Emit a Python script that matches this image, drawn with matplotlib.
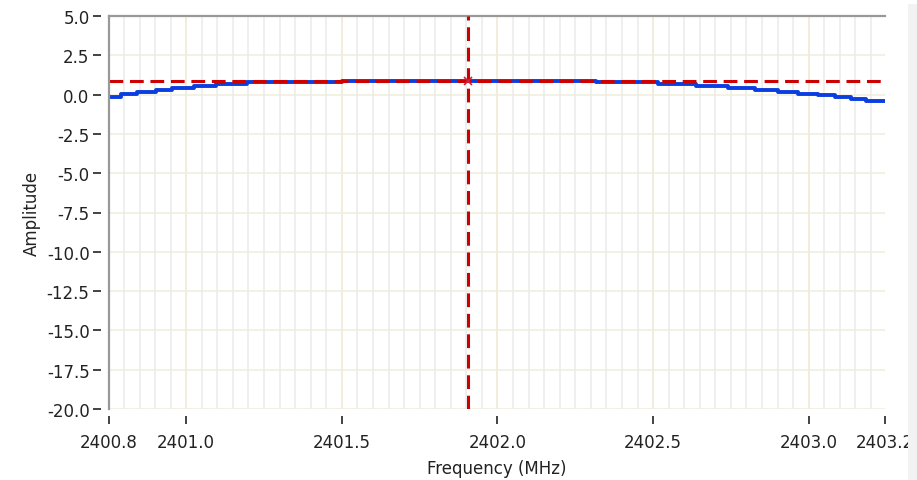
import numpy as np
import matplotlib.pyplot as plt
from matplotlib.patches import Rectangle

# measured spectrum: start frequency of each level (MHz) and its amplitude
step_freq = [2400.752, 2400.792, 2400.843, 2400.904, 2400.955, 2401.026, 2401.096,
             2401.196, 2401.314, 2401.500, 2402.317, 2402.516, 2402.638, 2402.740,
             2402.827, 2402.901, 2402.965, 2403.029, 2403.083, 2403.135, 2403.183,
             2403.245]
step_amp = [-0.17, 0.02, 0.17, 0.30, 0.43, 0.55, 0.70,
            0.78, 0.83, 0.89, 0.81, 0.70, 0.55, 0.40,
            0.27, 0.17, 0.06, -0.04, -0.15, -0.26, -0.40,
            -0.40]

cursor_freq = 2401.905
cursor_amp = 0.88

x_ticks = [2400.752, 2401.0, 2401.5, 2402.0, 2402.5, 2403.0, 2403.245]
x_labels = ['2400.8', '2401.0', '2401.5', '2402.0', '2402.5', '2403.0', '2403.2']
y_ticks = [5.0, 2.5, 0.0, -2.5, -5.0, -7.5, -10.0, -12.5, -15.0, -17.5, -20.0]

plt.rcParams['font.family'] = ['DejaVu Sans']

fig = plt.figure(figsize=(9.17, 4.81), dpi=100)
fig.patches.append(Rectangle((908 / 917, 0), 9 / 917, 1 - 5 / 481, transform=fig.transFigure,
                             facecolor='#f2f2f2', edgecolor='none', zorder=0))
ax = fig.add_axes([109 / 917, 1 - 410 / 481, 776 / 917, 393 / 481])

ax.set_xlim(x_ticks[0], x_ticks[-1])
ax.set_ylim(-20, 5)

# grid: fine vertical lines every 0.05 MHz, beige ones on the major steps
for f in np.arange(2400.80, 2403.24, 0.05):
    major = abs(f * 2 - round(f * 2)) < 1e-6
    ax.axvline(f, color='#ede8d2' if major else '#ebebeb', lw=1.1, zorder=1)
for a in y_ticks:
    ax.axhline(a, color='#f0ecdc', lw=1.1, zorder=1)

ax.step(step_freq, step_amp, where='post', color='#0a3ee0', lw=2.8, zorder=3)

# cursor
ax.axhline(cursor_amp, color='#cc0000', lw=2.2, ls=(0, (4.5, 2.2)), zorder=4)
ax.axvline(cursor_freq, color='#cc0000', lw=2.2, ls=(0, (4.5, 2.2)), zorder=4)
ax.plot([cursor_freq], [cursor_amp], marker='x', ms=6, mew=1.2, color='#d02040', zorder=5)

for s in ['right', 'bottom']:
    ax.spines[s].set_visible(False)
ax.spines['top'].set_color('#999999')
ax.spines['top'].set_linewidth(1.6)
ax.spines['left'].set_position(('outward', 6))
ax.spines['left'].set_visible(False)
ax.spines['bottom'].set_position(('outward', 5))
ax.plot([0, 0], [0, 1], transform=ax.transAxes, color='#999999', lw=1.6, clip_on=False, zorder=6)

ax.set_xticks(x_ticks)
ax.set_xticklabels(x_labels)
ax.set_yticks(y_ticks)
ax.set_yticklabels(['%.1f' % v for v in y_ticks])
ax.tick_params(axis='both', colors='#222222', labelsize=12, width=1.2, length=6, pad=2)
ax.tick_params(axis='x', length=6, pad=6)

ax.set_xlabel('Frequency (MHz)', fontsize=12, color='#222222', labelpad=6)
ax.set_ylabel('Amplitude', fontsize=12, color='#222222', labelpad=4)

fig.savefig('out.png', dpi=100)
